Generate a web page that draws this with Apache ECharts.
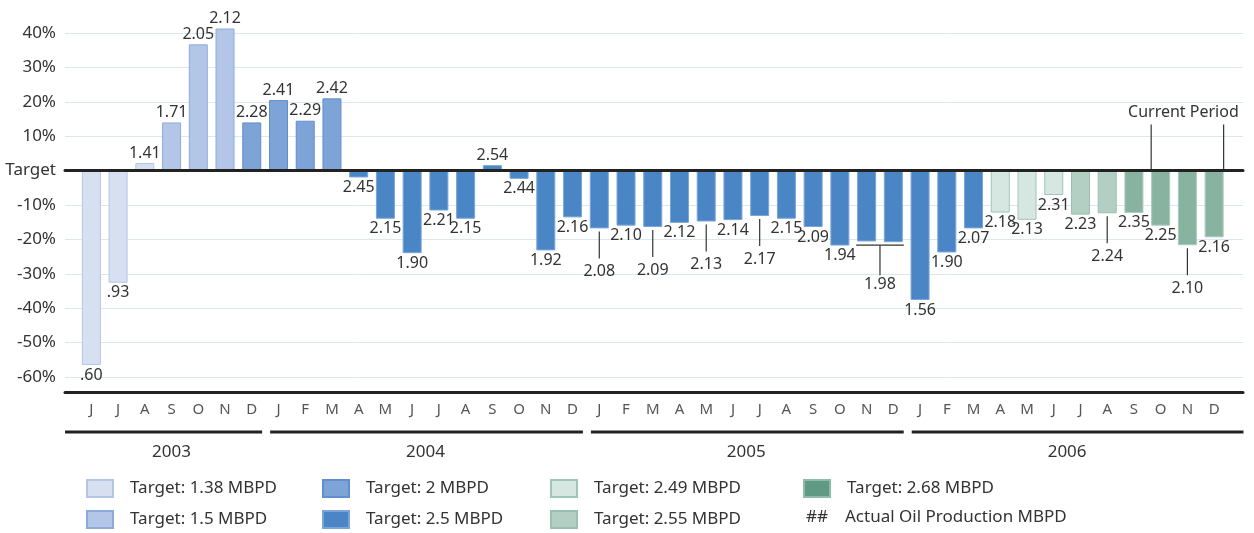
<!DOCTYPE html>
<html>
<head>
<meta charset="utf-8">
<script src="https://cdn.jsdelivr.net/npm/echarts@6/dist/echarts.min.js"></script>
<style>
  html, body { margin: 0; padding: 0; background: #fff; }
  #chart { width: 1254px; height: 533px; }
</style>
</head>
<body>
<div id="chart"></div>
<script>
const FONT = "'Noto Sans', sans-serif";

// months Jun 2003 .. Dec 2006
const months = ['J','J','A','S','O','N','D',
  'J','F','M','A','M','J','J','A','S','O','N','D',
  'J','F','M','A','M','J','J','A','S','O','N','D',
  'J','F','M','A','M','J','J','A','S','O','N','D'];

// % above / below target
const deviation = [-56.5, -32.6, 2.2, 14.0, 36.7, 41.3, 14.0,
  20.5, 14.5, 21.0, -2.0, -14.0, -24.0, -11.6, -14.0, 1.6, -2.4, -23.2, -13.6,
  -16.8, -16.0, -16.4, -15.2, -14.8, -14.4, -13.2, -14.0, -16.4, -21.8, -20.6, -20.8,
  -37.6, -23.8, -16.8, -12.2, -14.3, -7.1, -12.8, -12.4, -12.3, -16.0, -21.7, -19.4];

// actual oil production (MBPD) shown on each bar
const production = ['.60','.93','1.41','1.71','2.05','2.12','2.28',
  '2.41','2.29','2.42','2.45','2.15','1.90','2.21','2.15','2.54','2.44','1.92','2.16',
  '2.08','2.10','2.09','2.12','2.13','2.14','2.17','2.15','2.09','1.94','1.98','',
  '1.56','1.90','2.07','2.18','2.13','2.31','2.23','2.24','2.35','2.25','2.10','2.16'];

// production target that applied each month
const monthTarget = [1.38,1.38,1.38,1.5,1.5,1.5,2,
  2,2,2,2.5,2.5,2.5,2.5,2.5,2.5,2.5,2.5,2.5,
  2.5,2.5,2.5,2.5,2.5,2.5,2.5,2.5,2.5,2.5,2.5,2.5,
  2.5,2.5,2.5,2.49,2.49,2.49,2.55,2.55,2.68,2.68,2.68,2.68];

const targets = [1.38, 1.5, 2, 2.5, 2.49, 2.55, 2.68];
const targetFill   = ['#d6e0f1','#b4c6e7','#7ea3d6','#4a86c6','#d6e7e1','#b3cfc4','#87b3a0'];
const targetBorder = ['#b3c6e8','#8eaadb','#5f8fcf','#7aa5d6','#9fc5b6','#98bfb0','#a9cabd'];

const years = ['2003','2004','2005','2006'];
const yearFirstMonth = [0, 7, 19, 31];
const yearLastMonth = [6, 18, 30, 42];

const leaderMonths = [19, 21, 23, 25, 38, 41];
const bracketMonths = [29, 30];
const currentPeriod = [40, 42];

const LEADER = 30;
const BAR_W = 19;
const GRID_L = 78, GRID_R = 26.5, GRID_T = 33, GRID_B = 156;
const BAND = (1254 - GRID_L - GRID_R) / months.length;

const seriesName = t => 'Target: ' + t + ' MBPD';

const chart = echarts.init(document.getElementById('chart'));

const barSeries = targets.map((t, k) => ({
  name: seriesName(t),
  type: 'bar',
  xAxisIndex: 0,
  yAxisIndex: 0,
  barWidth: BAR_W,
  barGap: '-100%',
  clip: false,
  itemStyle: { color: targetFill[k], borderColor: targetBorder[k], borderWidth: 1 },
  data: deviation.map((v, i) => {
    if (monthTarget[i] !== t) return '-';
    const lead = leaderMonths.includes(i) || i === bracketMonths[0];
    return {
      value: v,
      label: {
        position: v >= 0 ? 'top' : 'bottom',
        distance: lead ? LEADER + 5 : 2,
        offset: i === bracketMonths[0] ? [BAND / 2, 0] : [0, 0]
      }
    };
  }),
  label: {
    show: true,
    formatter: p => production[p.dataIndex],
    fontFamily: FONT,
    fontSize: 16,
    color: '#333'
  },
  z: 3
}));

const decorations = [
  {
    // leader lines under pushed-down labels
    type: 'custom',
    xAxisIndex: 0, yAxisIndex: 0,
    silent: true,
    data: leaderMonths.map(i => [i, deviation[i]]),
    renderItem: (params, api) => {
      const p = api.coord([api.value(0), api.value(1)]);
      return { type: 'line', shape: { x1: p[0], y1: p[1] + 3, x2: p[0], y2: p[1] + LEADER },
        style: { stroke: '#333', lineWidth: 1.2 } };
    },
    z: 4
  },
  {
    // bracket over Nov/Dec 2005
    type: 'custom',
    xAxisIndex: 0, yAxisIndex: 0,
    silent: true,
    data: [[bracketMonths[0], bracketMonths[1], Math.min(deviation[bracketMonths[0]], deviation[bracketMonths[1]])]],
    encode: { x: 0, y: 2 },
    renderItem: (params, api) => {
      const a = api.coord([api.value(0), api.value(2)]);
      const b = api.coord([api.value(1), api.value(2)]);
      const y = a[1] + 3, mid = (a[0] + b[0]) / 2;
      return { type: 'group', children: [
        { type: 'line', shape: { x1: a[0] - BAR_W / 2 - 1, y1: y, x2: b[0] + BAR_W / 2 + 1, y2: y },
          style: { stroke: '#333', lineWidth: 1.2 } },
        { type: 'line', shape: { x1: mid, y1: y, x2: mid, y2: y + LEADER },
          style: { stroke: '#333', lineWidth: 1.2 } }
      ] };
    },
    z: 4
  },
  {
    // "Current Period" bracket
    type: 'custom',
    xAxisIndex: 0, yAxisIndex: 0,
    silent: true,
    data: [[currentPeriod[0], currentPeriod[1], 0]],
    encode: { x: 0, y: 2 },
    renderItem: (params, api) => {
      const a = api.coord([api.value(0), 0]);
      const b = api.coord([api.value(1), 0]);
      const x0 = a[0] - BAR_W / 2, x1 = b[0] + BAR_W / 2, y0 = a[1];
      return { type: 'group', children: [
        { type: 'line', shape: { x1: x0, y1: y0, x2: x0, y2: y0 - 46 }, style: { stroke: '#333', lineWidth: 1.2 } },
        { type: 'line', shape: { x1: x1, y1: y0, x2: x1, y2: y0 - 46 }, style: { stroke: '#333', lineWidth: 1.2 } },
        { type: 'text', x: (x0 + x1) / 2 - 4, y: y0 - 58,
          style: { text: 'Current Period', fill: '#333', font: '16px ' + FONT, align: 'center', verticalAlign: 'middle' } }
      ] };
    },
    z: 4
  },
  {
    // year rules and labels below month letters
    type: 'custom',
    xAxisIndex: 0, yAxisIndex: 0,
    silent: true,
    data: years.map((y, k) => [yearFirstMonth[k], yearLastMonth[k], 0]),
    encode: { x: 0, y: 2 },
    renderItem: (params, api) => {
      const k = params.dataIndex;
      const cs = params.coordSys;
      const a = api.coord([api.value(0), 0])[0] - BAND / 2;
      const b = api.coord([api.value(1), 0])[0] + BAND / 2;
      const x0 = k === 0 ? a - 13 : a + 5;
      const x1 = k === years.length - 1 ? b + 16 : b - 3;
      const base = cs.y + cs.height;
      return { type: 'group', children: [
        { type: 'line', shape: { x1: x0, y1: base + 55, x2: x1, y2: base + 55 }, style: { stroke: '#222', lineWidth: 3 } },
        { type: 'text', x: (a + b) / 2, y: base + 75,
          style: { text: years[k], fill: '#333', font: '17px ' + FONT, align: 'center', verticalAlign: 'middle' } }
      ] };
    },
    z: 4
  }
];

const legendBase = {
  orient: 'vertical',
  icon: 'rect',
  itemWidth: 26,
  itemHeight: 17,
  itemGap: 12,
  padding: 0,
  selectedMode: false,
  textStyle: { fontFamily: FONT, fontSize: 17, color: '#333', padding: [0, 0, 0, 12] }
};

const option = {
  animation: false,
  backgroundColor: '#fff',
  grid: [
    { left: GRID_L, right: GRID_R, top: GRID_T, bottom: GRID_B },
    { left: 65, right: 11, top: GRID_T, bottom: GRID_B }
  ],
  xAxis: [
    {
      type: 'category', gridIndex: 0, data: months, offset: 15,
      axisLine: { show: false, onZero: false }, axisTick: { show: false },
      axisLabel: { fontFamily: FONT, fontSize: 15, color: '#555', margin: 10 }
    },
    {
      type: 'value', gridIndex: 1, min: 0, max: 1, z: 10,
      axisLine: { show: true, onZero: true, lineStyle: { color: '#222', width: 3 } },
      axisTick: { show: false }, axisLabel: { show: false }, splitLine: { show: false }
    },
    {
      type: 'value', gridIndex: 1, min: 0, max: 1, offset: 15, position: 'bottom',
      axisLine: { show: true, onZero: false, lineStyle: { color: '#222', width: 3 } },
      axisTick: { show: false }, axisLabel: { show: false }, splitLine: { show: false }
    }
  ],
  yAxis: [
    {
      type: 'value', gridIndex: 0, min: -60, max: 40, interval: 10,
      axisLine: { show: false }, axisTick: { show: false }, axisLabel: { show: false }, splitLine: { show: false }
    },
    {
      type: 'value', gridIndex: 1, min: -60, max: 40, interval: 10,
      axisLine: { show: false }, axisTick: { show: false },
      axisLabel: { fontFamily: FONT, fontSize: 17, color: '#333', margin: 9,
        formatter: v => v === 0 ? 'Target' : v + '%' },
      splitLine: { lineStyle: { color: '#dce6f3', width: 1 } }
    }
  ],
  legend: [
    Object.assign({}, legendBase, { left: 86, top: 479, data: [seriesName(1.38), seriesName(1.5)] }),
    Object.assign({}, legendBase, { left: 322, top: 479, data: [seriesName(2), seriesName(2.5)] }),
    Object.assign({}, legendBase, { left: 550, top: 479, data: [seriesName(2.49), seriesName(2.55)] }),
    Object.assign({}, legendBase, { left: 803, top: 479,
      data: [{ name: seriesName(2.68), itemStyle: { color: '#5e9a84', borderColor: '#8fbcaa' } }] })
  ],
  graphic: [
    { type: 'text', left: 806, top: 509, style: { text: '##', fill: '#333', font: '17px ' + FONT } },
    { type: 'text', left: 845, top: 509, style: { text: 'Actual Oil Production MBPD', fill: '#333', font: '17px ' + FONT } }
  ],
  series: barSeries.concat(decorations)
};

chart.setOption(option);
window.addEventListener('resize', () => chart.resize());
</script>
</body>
</html>
